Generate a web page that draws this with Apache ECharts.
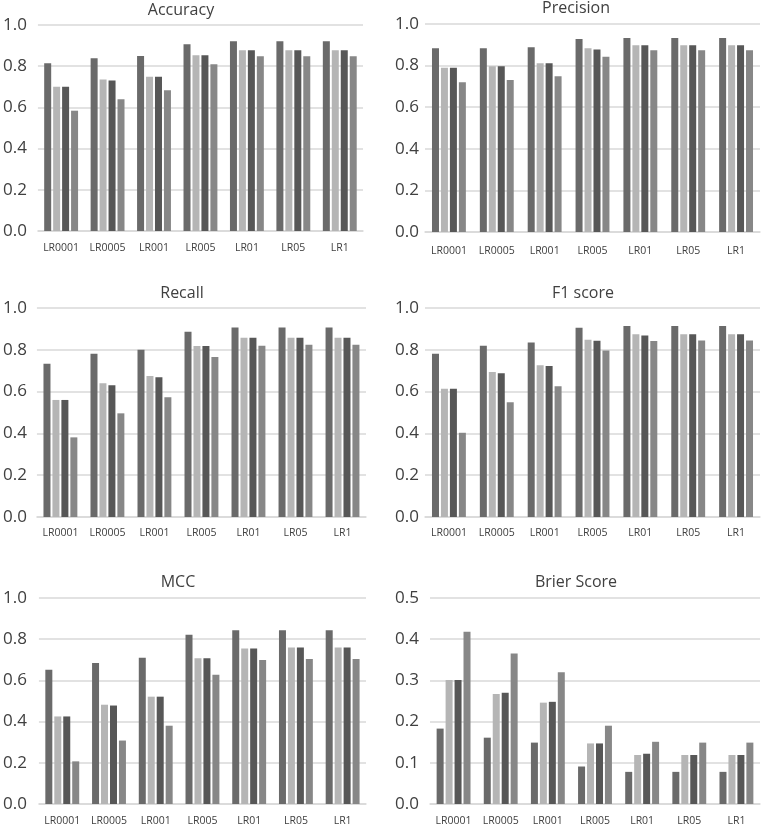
<!DOCTYPE html>
<html>
<head>
<meta charset="utf-8">
<script src="https://cdn.jsdelivr.net/npm/echarts@6/dist/echarts.min.js"></script>
<style>
html,body{margin:0;padding:0;background:#ffffff;}
#c{width:761px;height:827px;}
</style>
</head>
<body>
<div id="c"></div>
<script>
// ---------- data ----------
const categories = ['LR0001', 'LR0005', 'LR001', 'LR005', 'LR01', 'LR05', 'LR1'];
const seriesNames = ['Series 1', 'Series 2', 'Series 3', 'Series 4'];

const accuracyS1 = [0.814, 0.838, 0.850, 0.906, 0.921, 0.921, 0.921];
const accuracyS2 = [0.700, 0.736, 0.749, 0.853, 0.877, 0.877, 0.877];
const accuracyS3 = [0.700, 0.730, 0.749, 0.853, 0.877, 0.877, 0.877];
const accuracyS4 = [0.584, 0.639, 0.683, 0.809, 0.848, 0.848, 0.848];

const precisionS1 = [0.883, 0.883, 0.888, 0.928, 0.933, 0.933, 0.933];
const precisionS2 = [0.790, 0.797, 0.811, 0.883, 0.898, 0.898, 0.898];
const precisionS3 = [0.790, 0.797, 0.811, 0.878, 0.898, 0.898, 0.898];
const precisionS4 = [0.720, 0.731, 0.749, 0.843, 0.874, 0.874, 0.874];

const recallS1 = [0.733, 0.781, 0.800, 0.886, 0.907, 0.907, 0.907];
const recallS2 = [0.560, 0.640, 0.675, 0.818, 0.858, 0.858, 0.858];
const recallS3 = [0.560, 0.630, 0.669, 0.818, 0.858, 0.858, 0.858];
const recallS4 = [0.381, 0.496, 0.573, 0.765, 0.819, 0.824, 0.824];

const f1S1 = [0.781, 0.819, 0.835, 0.906, 0.914, 0.914, 0.914];
const f1S2 = [0.614, 0.694, 0.726, 0.848, 0.874, 0.874, 0.874];
const f1S3 = [0.614, 0.688, 0.722, 0.843, 0.868, 0.874, 0.874];
const f1S4 = [0.403, 0.549, 0.626, 0.797, 0.842, 0.845, 0.845];

const mccS1 = [0.652, 0.684, 0.710, 0.821, 0.843, 0.843, 0.843];
const mccS2 = [0.425, 0.482, 0.521, 0.708, 0.755, 0.760, 0.760];
const mccS3 = [0.425, 0.478, 0.521, 0.708, 0.755, 0.760, 0.760];
const mccS4 = [0.207, 0.308, 0.380, 0.627, 0.699, 0.704, 0.704];

const brierS1 = [0.183, 0.161, 0.149, 0.091, 0.078, 0.078, 0.078];
const brierS2 = [0.301, 0.267, 0.246, 0.147, 0.119, 0.119, 0.119];
const brierS3 = [0.301, 0.270, 0.248, 0.147, 0.122, 0.119, 0.119];
const brierS4 = [0.418, 0.365, 0.320, 0.190, 0.151, 0.149, 0.149];

const panelTitles = ['Accuracy', 'Precision', 'Recall', 'F1 score', 'MCC', 'Brier Score'];
const yMaxValues = [1.0, 1.0, 1.0, 1.0, 1.0, 0.5];
const yIntervals = [0.2, 0.2, 0.2, 0.2, 0.2, 0.1];

const panelData = [
  [accuracyS1, accuracyS2, accuracyS3, accuracyS4],
  [precisionS1, precisionS2, precisionS3, precisionS4],
  [recallS1, recallS2, recallS3, recallS4],
  [f1S1, f1S2, f1S3, f1S4],
  [mccS1, mccS2, mccS3, mccS4],
  [brierS1, brierS2, brierS3, brierS4]
];

// ---------- layout / style ----------
const FONT = 'Open Sans';
const TEXT = '#404040';
const GRIDC = '#d9d9d9';
const barColors = ['#6a6a6a', '#b5b5b5', '#575757', '#878787'];

// grid boxes: left, top, right edge, bottom edge (px)
const boxes = [
  {l: 32,  t: 25,  r: 363, b: 231, ym: 11, xm: 12, tx: 181, ty: 10},
  {l: 425, t: 24,  r: 760, b: 232, ym: 6,  xm: 14, tx: 576, ty: 8},
  {l: 31,  t: 308, r: 366, b: 517, ym: 10, xm: 11, tx: 182, ty: 293},
  {l: 425, t: 308, r: 760, b: 517, ym: 6,  xm: 11, tx: 583, ty: 293},
  {l: 36,  t: 598, r: 366, b: 806, ym: 12, xm: 12, tx: 178, ty: 582},
  {l: 430, t: 598, r: 760, b: 806, ym: 11, xm: 12, tx: 576, ty: 582}
];

const grid = [], xAxis = [], yAxis = [], series = [], title = [];
boxes.forEach((bx, i) => {
  grid.push({left: bx.l, top: bx.t, width: bx.r - bx.l, height: bx.b - bx.t, containLabel: false});
  title.push({
    text: panelTitles[i], left: bx.tx, top: bx.ty - 8, textAlign: 'center', padding: 0,
    textStyle: {fontFamily: FONT, fontSize: 16, fontWeight: 'normal', color: TEXT}
  });
  xAxis.push({
    type: 'category', gridIndex: i, data: categories,
    axisLine: {show: true, lineStyle: {color: GRIDC, width: 1.5}},
    axisTick: {show: false},
    axisLabel: {fontFamily: FONT, fontSize: 10.5, color: TEXT, margin: bx.xm, interval: 0}
  });
  yAxis.push({
    type: 'value', gridIndex: i, min: 0, max: yMaxValues[i], interval: yIntervals[i],
    axisLine: {show: false}, axisTick: {show: false},
    splitLine: {show: true, lineStyle: {color: GRIDC, width: 1.5}},
    axisLabel: {fontFamily: FONT, fontSize: 17, color: TEXT, margin: bx.ym,
      formatter: v => v.toFixed(1)}
  });
  panelData[i].forEach((vals, s) => {
    series.push({
      type: 'bar', name: seriesNames[s], xAxisIndex: i, yAxisIndex: i,
      data: vals, barWidth: 7, barGap: '28%',
      itemStyle: {color: barColors[s]},
      silent: true, animation: false
    });
  });
});

const chart = echarts.init(document.getElementById('c'), null, {renderer: 'canvas'});
chart.setOption({
  backgroundColor: '#ffffff',
  animation: false,
  title: title, grid: grid, xAxis: xAxis, yAxis: yAxis, series: series
});
</script>
</body>
</html>
